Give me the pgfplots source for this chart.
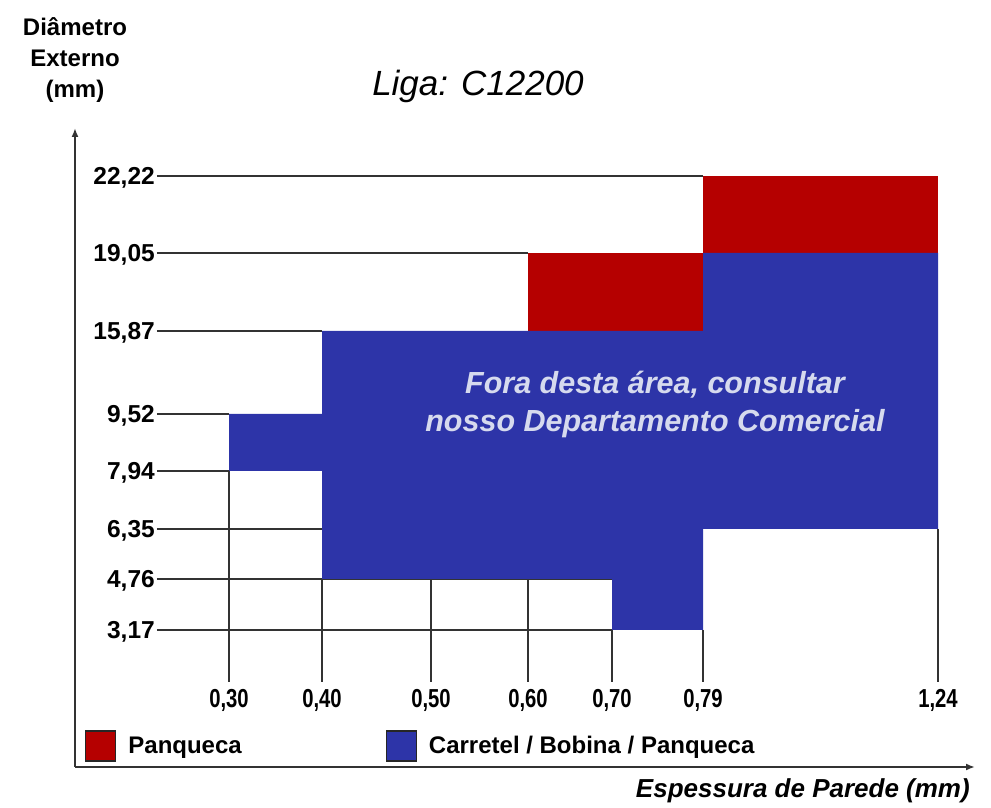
\documentclass[border=0pt]{standalone}
\usepackage{fontspec}
\setmainfont{Liberation Sans}
\newfontfamily\condfont{Liberation Sans}[FakeStretch=0.78]
\usepackage{pgfplots}
\pgfplotsset{compat=1.18}
\usetikzlibrary{arrows.meta}

\definecolor{panq}{HTML}{B50000}
\definecolor{carr}{HTML}{2D34A8}
\definecolor{note}{HTML}{D6DAEE}

% positions along the axes (1 unit = 1 px of the drawing), the
% scales are not linear: the tick labels carry the real values
\pgfplotsset{gridl/.style={black!80, line width=1.5bp, forget plot}}

\begin{document}
\begin{tikzpicture}
\begin{axis}[
  x=1bp, y=1bp,
  xmin=75, xmax=975, ymin=41, ymax=680,
  axis x line=bottom, axis y line=left,
  axis line style={black!80, line width=1.8bp, -{Latex[length=9bp,width=7bp]}},
  major tick length=0pt,
  xtick={229,322,431,528,612,703,938},
  xticklabels={{0,30},{0,40},{0,50},{0,60},{0,70},{0,79},{1,24}},
  ytick={178,229,279,337,394,477,555,632},
  yticklabels={{3,17},{4,76},{6,35},{7,94},{9,52},{15,87},{19,05},{22,22}},
  xticklabel style={anchor=center, inner sep=0pt, yshift=67bp,
    font=\condfont\bfseries\fontsize{26bp}{26bp}\selectfont},
  yticklabel style={anchor=east, inner sep=0pt, xshift=80bp, yshift=-1.5bp,
    font=\bfseries\fontsize{24.5bp}{24.5bp}\selectfont},
  clip=false,
  legend columns=2,
  legend style={draw=none, fill=none, at={(axis cs:85,62)}, anchor=west,
    inner sep=0pt, nodes={inner sep=0pt},
    font=\bfseries\fontsize{24bp}{24bp}\selectfont,
    /tikz/every odd column/.append style={column sep=12bp},
    /tikz/every even column/.append style={column sep=144bp}},
  legend image code/.code={\draw[#1, draw=black!85, line width=1.2bp] (0bp,-15bp) rectangle (30bp,15bp);},
]
% grid lines: horizontal ones from the tick labels to the areas
\addplot[gridl] coordinates {(157,632) (703,632)};
\addplot[gridl] coordinates {(157,555) (528,555)};
\addplot[gridl] coordinates {(157,477) (322,477)};
\addplot[gridl] coordinates {(157,394) (229,394)};
\addplot[gridl] coordinates {(157,337) (229,337)};
\addplot[gridl] coordinates {(157,279) (322,279)};
\addplot[gridl] coordinates {(157,229) (612,229)};
\addplot[gridl] coordinates {(157,178) (612,178)};
% vertical ones from the tick labels up to the areas
\addplot[gridl] coordinates {(229,126) (229,337)};
\addplot[gridl] coordinates {(322,126) (322,229)};
\addplot[gridl] coordinates {(431,126) (431,229)};
\addplot[gridl] coordinates {(528,126) (528,229)};
\addplot[gridl] coordinates {(612,126) (612,178)};
\addplot[gridl] coordinates {(703,126) (703,178)};
\addplot[gridl] coordinates {(938,126) (938,279)};

% Panqueca
\addplot[fill=panq, draw=none]
  coordinates {(528,477) (703,477) (703,555) (528,555)};
\addlegendentry{Panqueca}
\addplot[fill=panq, draw=none, forget plot]
  coordinates {(703,555) (938,555) (938,632) (703,632)};

% Carretel / Bobina / Panqueca
\addplot[fill=carr, draw=none] coordinates {
  (229,394) (322,394) (322,477) (703,477) (703,555) (938,555)
  (938,279) (703,279) (703,178) (612,178) (612,229) (322,229)
  (322,337) (229,337)};
\addlegendentry{Carretel / Bobina / Panqueca}

\node[text=note, align=center, font=\bfseries\itshape\fontsize{30.5bp}{38bp}\selectfont]
  at (axis cs:655,404) {Fora desta área, consultar\\nosso Departamento Comercial};
\node[font=\itshape\fontsize{35bp}{35bp}\selectfont] at (axis cs:478,722) {Liga: C12200};
\node[align=center, font=\bfseries\fontsize{24bp}{31bp}\selectfont] at (axis cs:75,748)
  {Diâmetro\\Externo\\(mm)};
\node[anchor=east, inner sep=0pt, font=\bfseries\itshape\fontsize{26bp}{26bp}\selectfont]
  at (axis cs:970,17) {Espessura de Parede (mm)};

\coordinate (bbSW) at (axis cs:0,0);
\coordinate (bbNE) at (axis cs:991,808);
\end{axis}
\pgfresetboundingbox
\path[use as bounding box] (bbSW) rectangle (bbNE);
\end{tikzpicture}
\end{document}
